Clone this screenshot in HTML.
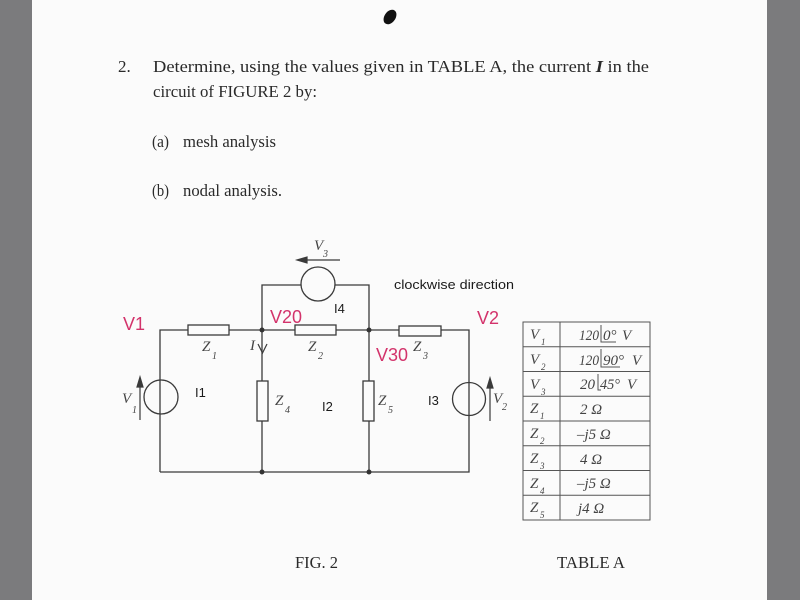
<!DOCTYPE html>
<html><head><meta charset="utf-8"><style>
html,body{margin:0;padding:0;background:#7b7b7d;}
svg{display:block;}
</style></head><body>
<svg width="800" height="600" viewBox="0 0 800 600" xmlns="http://www.w3.org/2000/svg">
<rect x="0" y="0" width="800" height="600" fill="#7b7b7d"/>
<rect x="32" y="0" width="735" height="600" fill="#fbfbfb"/>
<!-- blob -->
<ellipse cx="390" cy="17" rx="5.5" ry="8" transform="rotate(35 390 17)" fill="#111"/>

<!-- question text -->
<g font-family="'Liberation Serif', serif" font-size="17" fill="#2a2a2a">
<text x="118" y="72">2.</text>
<text x="153" y="72" textLength="496" lengthAdjust="spacingAndGlyphs">Determine, using the values given in TABLE A, the current <tspan font-weight="bold" font-style="italic">I</tspan> in the</text>
<text x="153" y="97" textLength="164" lengthAdjust="spacingAndGlyphs">circuit of FIGURE 2 by:</text>
<text x="152" y="147" textLength="17" lengthAdjust="spacingAndGlyphs">(a)</text>
<text x="183" y="147" textLength="93" lengthAdjust="spacingAndGlyphs">mesh analysis</text>
<text x="152" y="196" textLength="17" lengthAdjust="spacingAndGlyphs">(b)</text>
<text x="183" y="196" textLength="99" lengthAdjust="spacingAndGlyphs">nodal analysis.</text>
<text x="295" y="568" textLength="43" lengthAdjust="spacingAndGlyphs">FIG. 2</text>
<text x="557" y="568" textLength="68" lengthAdjust="spacingAndGlyphs">TABLE A</text>
</g>

<!-- circuit wires -->
<g stroke="#3a3a3a" stroke-width="1.3" fill="none">
<polyline points="160,472 160,330 469,330 469,472 160,472"/>
<line x1="262" y1="330" x2="262" y2="472"/>
<line x1="369" y1="330" x2="369" y2="472"/>
<polyline points="262,330 262,285 369,285 369,330"/>
</g>
<!-- resistors -->
<g stroke="#3a3a3a" stroke-width="1.3" fill="#fbfbfb">
<rect x="188" y="325" width="41" height="10"/>
<rect x="295" y="325" width="41" height="10"/>
<rect x="399" y="326" width="42" height="10"/>
<rect x="257" y="381" width="11" height="40"/>
<rect x="363" y="381" width="11" height="40"/>
<circle cx="318" cy="284" r="17"/>
<circle cx="161" cy="397" r="17"/>
<circle cx="469" cy="399" r="16.5"/>
</g>
<!-- lines through sources -->
<g stroke="#3a3a3a" stroke-width="1.3">
<line x1="160" y1="380" x2="160" y2="414"/>
<line x1="469" y1="382" x2="469" y2="416"/>
</g>
<!-- node dots -->
<g fill="#333">
<circle cx="262" cy="330" r="2.5"/>
<circle cx="369" cy="330" r="2.5"/>
<circle cx="262" cy="472" r="2.5"/>
<circle cx="369" cy="472" r="2.5"/>
</g>
<!-- arrows -->
<g stroke="#3a3a3a" stroke-width="1.2" fill="#3a3a3a">
<line x1="140" y1="420" x2="140" y2="385"/>
<polygon points="140,377 137,387 143,387"/>
<line x1="490" y1="421" x2="490" y2="386"/>
<polygon points="490,378 487,388 493,388"/>
<line x1="340" y1="260" x2="305" y2="260"/>
<polygon points="297,260 307,257 307,263"/>
<polyline points="258,344 262.5,353 267,344" fill="none"/>
</g>

<!-- italic circuit labels -->
<g font-family="'Liberation Serif', serif" font-style="italic" fill="#444">
<text x="202" y="351" font-size="15">Z</text><text x="212" y="359" font-size="10">1</text>
<text x="308" y="351" font-size="15">Z</text><text x="318" y="359" font-size="10">2</text>
<text x="413" y="351" font-size="15">Z</text><text x="423" y="359" font-size="10">3</text>
<text x="275" y="405" font-size="15">Z</text><text x="285" y="413" font-size="10">4</text>
<text x="378" y="405" font-size="15">Z</text><text x="388" y="413" font-size="10">5</text>
<text x="122" y="403" font-size="15">V</text><text x="132" y="413" font-size="10">1</text>
<text x="493" y="403" font-size="15">V</text><text x="502" y="410" font-size="10">2</text>
<text x="314" y="250" font-size="15">V</text><text x="323" y="257" font-size="10">3</text>
<text x="250" y="350" font-size="15">I</text>
</g>

<!-- sans labels -->
<g font-family="'Liberation Sans', sans-serif" font-size="13" fill="#1a1a1a">
<text x="394" y="289" textLength="120" lengthAdjust="spacingAndGlyphs">clockwise direction</text>
<text x="334" y="313">I4</text>
<text x="195" y="397">I1</text>
<text x="322" y="411">I2</text>
<text x="428" y="405">I3</text>
</g>
<g font-family="'Liberation Sans', sans-serif" font-size="18" fill="#d3336b">
<text x="123" y="330">V1</text>
<text x="270" y="323">V20</text>
<text x="477" y="324">V2</text>
<text x="376" y="361">V30</text>
</g>

<!-- table -->
<g stroke="#555" stroke-width="1" fill="none">
<rect x="523" y="322" width="127" height="198"/>
<line x1="560" y1="322" x2="560" y2="520"/>
<line x1="523" y1="346.75" x2="650" y2="346.75"/>
<line x1="523" y1="371.5" x2="650" y2="371.5"/>
<line x1="523" y1="396.25" x2="650" y2="396.25"/>
<line x1="523" y1="421" x2="650" y2="421"/>
<line x1="523" y1="445.75" x2="650" y2="445.75"/>
<line x1="523" y1="470.5" x2="650" y2="470.5"/>
<line x1="523" y1="495.25" x2="650" y2="495.25"/>
</g>
<g font-family="'Liberation Serif', serif" font-style="italic" fill="#444">
<text x="530" y="339" font-size="15">V</text><text x="541" y="345" font-size="9">1</text>
<text x="530" y="364" font-size="15">V</text><text x="541" y="370" font-size="9">2</text>
<text x="530" y="389" font-size="15">V</text><text x="541" y="395" font-size="9">3</text>
<text x="530" y="413" font-size="15">Z</text><text x="540" y="419" font-size="9">1</text>
<text x="530" y="438" font-size="15">Z</text><text x="540" y="444" font-size="9">2</text>
<text x="530" y="463" font-size="15">Z</text><text x="540" y="469" font-size="9">3</text>
<text x="530" y="488" font-size="15">Z</text><text x="540" y="494" font-size="9">4</text>
<text x="530" y="512" font-size="15">Z</text><text x="540" y="518" font-size="9">5</text>

<text x="579" y="340" font-size="15" textLength="20" lengthAdjust="spacingAndGlyphs">120</text>
<text x="603" y="340" font-size="15">0°</text>
<text x="622" y="340" font-size="15">V</text>
<text x="579" y="365" font-size="15" textLength="20" lengthAdjust="spacingAndGlyphs">120</text>
<text x="603" y="365" font-size="15" textLength="21" lengthAdjust="spacingAndGlyphs">90°</text>
<text x="632" y="365" font-size="15">V</text>
<text x="580" y="389" font-size="15" textLength="15" lengthAdjust="spacingAndGlyphs">20</text>
<text x="600" y="389" font-size="15" textLength="20" lengthAdjust="spacingAndGlyphs">45°</text>
<text x="627" y="389" font-size="15">V</text>
<text x="580" y="414" font-size="15">2 Ω</text>
<text x="577" y="439" font-size="15">–j5 Ω</text>
<text x="580" y="464" font-size="15">4 Ω</text>
<text x="577" y="488" font-size="15">–j5 Ω</text>
<text x="578" y="513" font-size="15">j4 Ω</text>
</g>
<g stroke="#555" stroke-width="1" fill="none">
<polyline points="601,325 601,342 616,342"/>
<polyline points="601,349 601,367 620,367"/>
<polyline points="598,374 598,390 601,390"/>
</g>
</svg>
</body></html>
